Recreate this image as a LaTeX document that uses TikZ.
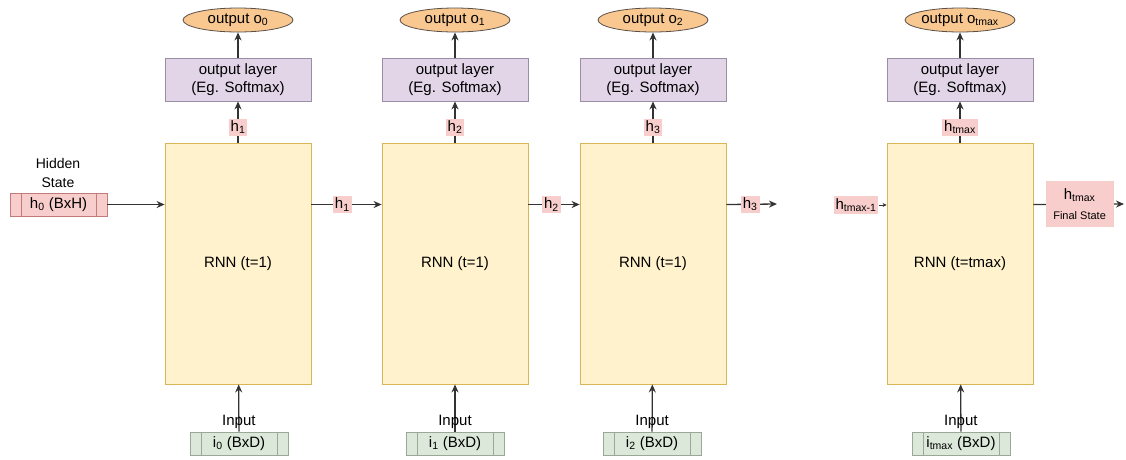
\documentclass[tikz,border=0pt]{standalone}
\usepackage{fontspec}
\setmainfont{Liberation Sans}
\usepackage{xcolor}
\usepackage{tikz}
\usetikzlibrary{arrows.meta}
\usetikzlibrary{shapes.geometric}
\usetikzlibrary{positioning}
\definecolor{rnnfill}{HTML}{FFF2CC}
\definecolor{rnndraw}{HTML}{D6B656}
\definecolor{layerfill}{HTML}{E1D5E7}
\definecolor{layerdraw}{HTML}{9A8DA6}
\definecolor{outfill}{HTML}{F9C891}
\definecolor{outdraw}{HTML}{5A5048}
\definecolor{hfill}{HTML}{F8CECC}
\definecolor{hdraw}{HTML}{C07C7A}
\definecolor{infill}{HTML}{DCE9DA}
\definecolor{indraw}{HTML}{9AA898}
\definecolor{linecol}{HTML}{333333}
\tikzset{
    tnode/.style = {align=center, inner sep=0pt, text centered, font=\fontsize{15}{18}\selectfont},
    rnn_node/.style = {tnode, rectangle, draw=rnndraw, fill=rnnfill, minimum width=146pt, minimum height=241pt, thick},
    layer_node/.style = {tnode, rectangle, draw=layerdraw, fill=layerfill, minimum width=146pt, minimum height=43pt, thick},
    out_node/.style = {tnode, ellipse, draw=outdraw, fill=outfill, minimum width=110pt, minimum height=24pt, thick},
    h_label/.style = {tnode, fill=hfill, inner sep=2pt},
    in_node/.style = {tnode, rectangle, draw=indraw, fill=infill, minimum width=98pt, minimum height=23pt, thick},
    state_node/.style = {tnode, rectangle, draw=hdraw, fill=hfill, minimum width=97pt, minimum height=23pt, thick},
    conn/.style = {->, draw=linecol, line width=1.3pt}
}
\begin{document}
\begin{tikzpicture}[x=1pt, y=-1pt, >={Stealth[length=8pt,width=7pt]}]
    \useasboundingbox (0,0) rectangle (1126,459);
    % recurrent cells
    \node [rnn_node] (rnn1) at (238,263.5) {RNN (t=1)};
    \node [rnn_node] (rnn2) at (455,263.5) {RNN (t=1)};
    \node [rnn_node] (rnn3) at (653,263.5) {RNN (t=1)};
    \node [rnn_node] (rnn4) at (960,263.5) {RNN (t=tmax)};
    % output layers
    \node [layer_node] (lay1) at (238,79.5) {output layer\\(Eg. Softmax)};
    \node [layer_node] (lay2) at (455,79.5) {output layer\\(Eg. Softmax)};
    \node [layer_node] (lay3) at (653,79.5) {output layer\\(Eg. Softmax)};
    \node [layer_node] (lay4) at (960,79.5) {output layer\\(Eg. Softmax)};
    % outputs
    \node [out_node] (out1) at (238,20) {output o\textsubscript{0}};
    \node [out_node] (out2) at (455,20) {output o\textsubscript{1}};
    \node [out_node] (out3) at (653,20) {output o\textsubscript{2}};
    \node [out_node] (out4) at (960,20) {output o\textsubscript{tmax}};
    % inputs
    \node [in_node] (in1) at (239,443.5) {i\textsubscript{0} (BxD)};
    \node [in_node] (in2) at (455,443.5) {i\textsubscript{1} (BxD)};
    \node [in_node] (in3) at (652,443.5) {i\textsubscript{2} (BxD)};
    \node [in_node] (in4) at (961,443.5) {i\textsubscript{tmax} (BxD)};
    \foreach \n in {in1,in2,in3,in4} {
        \draw [indraw, thick] ([xshift=12pt]\n.north west) -- ([xshift=12pt]\n.south west);
        \draw [indraw, thick] ([xshift=-11pt]\n.north east) -- ([xshift=-11pt]\n.south east);
    }
    % hidden state
    \node [state_node] (hid) at (58.5,204.5) {h\textsubscript{0} (BxH)};
    \draw [hdraw, thick] ([xshift=12pt]hid.north west) -- ([xshift=12pt]hid.south west);
    \draw [hdraw, thick] ([xshift=-11pt]hid.north east) -- ([xshift=-11pt]hid.south east);
    \node [tnode, font=\fontsize{14}{19}\selectfont] (hidtxt) at (58,173) {Hidden\\State};
    \node [h_label] (hm1) at (856,205) {h\textsubscript{tmax-1}};
    \coordinate (h3end) at (777,204);
    \coordinate (finend) at (1124,204);
    % connectors
    \draw [conn] (hid.east) -- (rnn1.west |- hid.east);
    \draw [conn] (rnn1.east |- hid.east) -- (rnn2.west |- hid.east) node [h_label, pos=0.44] {h\textsubscript{1}};
    \draw [conn] (rnn2.east |- hid.east) -- (rnn3.west |- hid.east) node [h_label, pos=0.45] {h\textsubscript{2}};
    \draw [conn] (rnn3.east |- hid.east) -- (h3end) node [h_label, pos=0.47] {h\textsubscript{3}};
    \draw [conn, line width=0.8pt, >={Stealth[length=4pt,width=4pt]}] (hm1.east) -- (rnn4.west |- hm1.east);
    \draw [conn] (rnn4.east |- hid.east) -- (finend)
        node [h_label, pos=0.51, minimum width=68pt, minimum height=46pt] {h\textsubscript{tmax}\\[2pt]{\fontsize{11}{13}\selectfont Final State}};
    \draw [conn] (rnn1) -- (lay1) node [h_label, pos=0.37] {h\textsubscript{1}};
    \draw [conn] (rnn2) -- (lay2) node [h_label, pos=0.37] {h\textsubscript{2}};
    \draw [conn] (rnn3) -- (lay3) node [h_label, pos=0.37] {h\textsubscript{3}};
    \draw [conn] (rnn4) -- (lay4) node [h_label, pos=0.37] {h\textsubscript{tmax}};
    \draw [conn] (lay1) -- (out1);
    \draw [conn] (lay2) -- (out2);
    \draw [conn] (lay3) -- (out3);
    \draw [conn] (lay4) -- (out4);
    \draw [conn] (in1) -- (rnn1) node [tnode, pos=0.2] {Input};
    \draw [conn] (in2) -- (rnn2) node [tnode, pos=0.2] {Input};
    \draw [conn] (in3) -- (rnn3) node [tnode, pos=0.2] {Input};
    \draw [conn] (in4) -- (rnn4) node [tnode, pos=0.2] {Input};
\end{tikzpicture}
\end{document}
